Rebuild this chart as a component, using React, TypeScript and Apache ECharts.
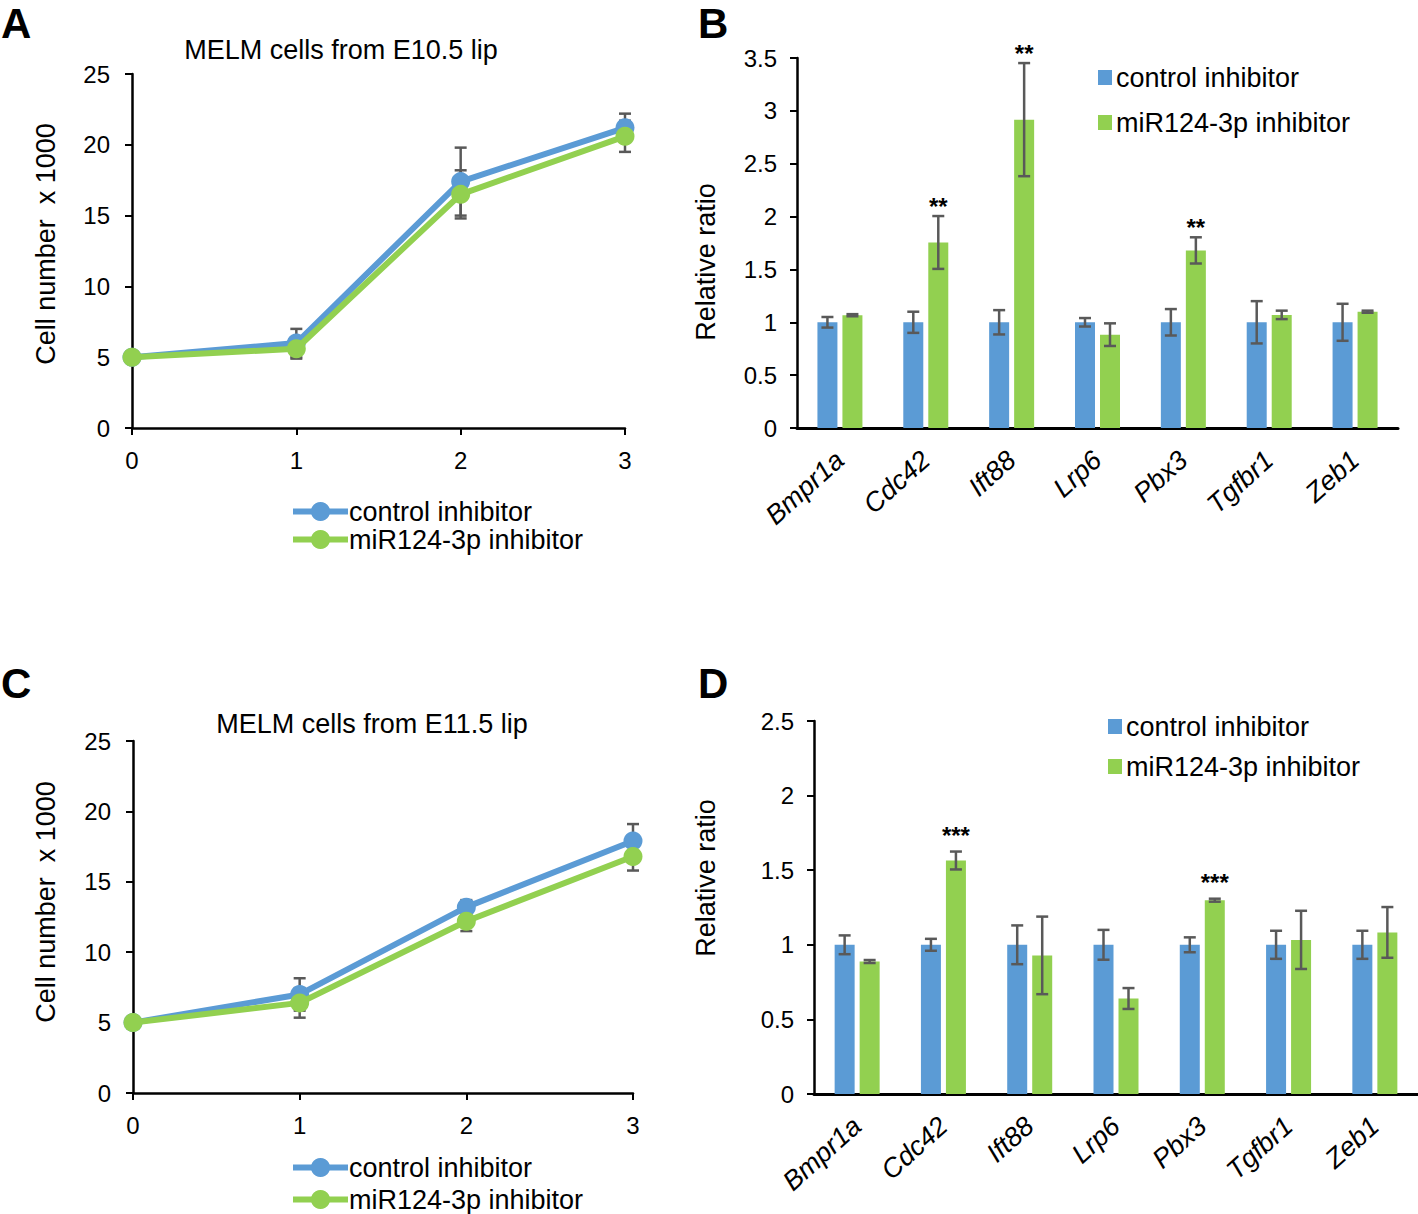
import React, { useEffect, useRef } from "react";
import * as echarts from "echarts";

const FONT = "'Liberation Sans', Arial, sans-serif";
const BLUE = "#5B9BD5";
const GREEN = "#92D050";
const ERR = "#595959";

const seriesNames = ["control inhibitor", "miR124-3p inhibitor"];

// Panel A — MELM cells from E10.5 lip
const days = [0, 1, 2, 3];
const e105Control = [5, 6.0, 17.4, 21.2];
const e105ControlErr = [0, 1.0, 2.4, 1.0];
const e105Mir = [5, 5.6, 16.5, 20.6];
const e105MirErr = [0, 0.7, 1.7, 1.1];

// Panel C — MELM cells from E11.5 lip
const e115Control = [5, 7.0, 13.2, 17.9];
const e115ControlErr = [0, 1.15, 0.5, 1.2];
const e115Mir = [5, 6.4, 12.2, 16.8];
const e115MirErr = [0, 1.05, 0.7, 1.0];

// Panel B
const genes = ["Bmpr1a", "Cdc42", "Ift88", "Lrp6", "Pbx3", "Tgfbr1", "Zeb1"];
const bControl = [1, 1, 1, 1, 1, 1, 1];
const bControlErr = [0.05, 0.1, 0.115, 0.04, 0.125, 0.2, 0.175];
const bMir = [1.067, 1.755, 2.917, 0.883, 1.68, 1.07, 1.1];
const bMirErr = [0.01, 0.25, 0.535, 0.107, 0.124, 0.04, 0.01];
const bSig = ["", "**", "**", "", "**", "", ""];

// Panel D
const dControl = [1, 1, 1, 1, 1, 1, 1];
const dControlErr = [0.063, 0.04, 0.13, 0.1, 0.05, 0.094, 0.094];
const dMir = [0.888, 1.565, 0.929, 0.64, 1.299, 1.033, 1.083];
const dMirErr = [0.01, 0.06, 0.26, 0.07, 0.01, 0.195, 0.17];
const dSig = ["", "***", "", "", "***", "", ""];

const BAR_W = 20;
const BAR_GAP_PX = 5;
const BIG = 27;
const TICK = 24;

function errBarItem(cx: number, hi: number[], lo: number[], cap = 6) {
  const style = { stroke: ERR, lineWidth: 2.5 };
  return [
    { type: "line", shape: { x1: cx, y1: hi[1], x2: cx, y2: lo[1] }, style },
    { type: "line", shape: { x1: cx - cap, y1: hi[1], x2: cx + cap, y2: hi[1] }, style },
    { type: "line", shape: { x1: cx - cap, y1: lo[1], x2: cx + cap, y2: lo[1] }, style },
  ];
}

function lineErrSeries(vals: number[], errs: number[]) {
  return {
    type: "custom",
    name: "err",
    z: 1,
    silent: true,
    data: days.map((d, i) => [d, vals[i], errs[i]]),
    encode: { x: 0, y: 1 },
    renderItem: (params: any, api: any) => {
      const x = api.value(0);
      const y = api.value(1);
      const e = api.value(2);
      if (!e) return { type: "group", children: [] };
      const hi = api.coord([x, y + e]);
      const lo = api.coord([x, y - e]);
      return { type: "group", children: errBarItem(hi[0], hi, lo) };
    },
  };
}

function barErrSeries(vals: number[], errs: number[], offset: number, sig?: string[], starLift = 0) {
  return {
    type: "custom",
    name: "err",
    z: 5,
    silent: true,
    data: genes.map((g, i) => [i, vals[i], errs[i]]),
    encode: { x: 0, y: 1 },
    renderItem: (params: any, api: any) => {
      const i = api.value(0);
      const y = api.value(1);
      const e = api.value(2);
      const hi = api.coord([i, y + e]);
      const lo = api.coord([i, y - e]);
      const cx = hi[0] + offset;
      const children: any[] = errBarItem(cx, hi, lo);
      const s = sig ? sig[params.dataIndex] : "";
      if (s) {
        children.push({
          type: "text",
          x: cx,
          y: hi[1] + 2 - starLift,
          style: {
            text: s,
            fontSize: 24,
            fontWeight: "bold",
            fontFamily: FONT,
            fill: "#000",
            align: "center",
            verticalAlign: "bottom",
          },
        });
      }
      return { type: "group", children };
    },
  };
}

function letter(text: string, x: number, y: number) {
  return {
    type: "text",
    x,
    y,
    style: { text, fontSize: 42, fontWeight: "bold", fontFamily: FONT, fill: "#000" },
  };
}

function vName(text: string, x: number, y: number) {
  return {
    type: "text",
    x,
    y,
    rotation: Math.PI / 2,
    style: {
      text,
      fontSize: BIG,
      fontFamily: FONT,
      fill: "#000",
      align: "center",
      verticalAlign: "middle",
    },
  };
}

function lineOption(
  title: string,
  titleX: number,
  titleY: number,
  letterText: string,
  letterY: number,
  nameY: number,
  grid: any,
  ctrl: number[],
  ctrlErr: number[],
  mir: number[],
  mirErr: number[],
  legendTop: number,
  legendGap: number
) {
  return {
    animation: false,
    textStyle: { fontFamily: FONT },
    graphic: [
      letter(letterText, 1, letterY),
      vName("Cell number  x 1000", 46, nameY),
      {
        type: "text",
        x: titleX,
        y: titleY,
        style: {
          text: title,
          fontSize: BIG,
          fontFamily: FONT,
          fill: "#000",
          align: "center",
          verticalAlign: "middle",
        },
      },
    ],
    grid,
    legend: {
      data: seriesNames,
      orient: "vertical",
      left: 290,
      top: legendTop,
      padding: 0,
      itemWidth: 55,
      itemHeight: 24,
      itemGap: legendGap,
      lineStyle: { width: 6 },
      textStyle: { fontSize: BIG, color: "#000", fontFamily: FONT, padding: [0, 0, 0, -4] },
    },
    xAxis: {
      type: "value",
      min: 0,
      max: 3,
      interval: 1,
      splitLine: { show: false },
      axisLine: { lineStyle: { color: "#000", width: 2.5 } },
      axisTick: { show: true, length: 7, lineStyle: { color: "#000", width: 2 } },
      axisLabel: { fontSize: TICK, color: "#000", margin: 20, fontFamily: FONT },
    },
    yAxis: {
      type: "value",
      min: 0,
      max: 25,
      interval: 5,
      splitLine: { show: false },
      axisLine: { show: true, lineStyle: { color: "#000", width: 2.5 } },
      axisTick: { show: true, length: 7, lineStyle: { color: "#000", width: 2 } },
      axisLabel: { fontSize: TICK, color: "#000", margin: 22, fontFamily: FONT },
    },
    series: [
      lineErrSeries(ctrl, ctrlErr),
      lineErrSeries(mir, mirErr),
      {
        type: "line",
        name: seriesNames[0],
        data: days.map((d, i) => [d, ctrl[i]]),
        symbol: "circle",
        symbolSize: 19,
        color: BLUE,
        lineStyle: { width: 6, color: BLUE },
        itemStyle: { color: BLUE },
        z: 2,
      },
      {
        type: "line",
        name: seriesNames[1],
        data: days.map((d, i) => [d, mir[i]]),
        symbol: "circle",
        symbolSize: 19,
        color: GREEN,
        lineStyle: { width: 6, color: GREEN },
        itemStyle: { color: GREEN },
        z: 3,
      },
    ],
  };
}

function barOption(
  letterText: string,
  letterY: number,
  nameY: number,
  grid: any,
  yMax: number,
  ctrl: number[],
  ctrlErr: number[],
  mir: number[],
  mirErr: number[],
  sig: string[],
  starLift: number,
  legendLeft: number,
  legendTop: number,
  legendGap: number
) {
  const off = (BAR_W + BAR_GAP_PX) / 2;
  return {
    animation: false,
    textStyle: { fontFamily: FONT },
    graphic: [letter(letterText, 18, letterY), vName("Relative ratio", 26, nameY)],
    grid,
    legend: {
      data: seriesNames,
      orient: "vertical",
      left: legendLeft,
      top: legendTop,
      padding: 0,
      icon: "rect",
      itemWidth: 14,
      itemHeight: 15,
      itemGap: legendGap,
      textStyle: { fontSize: BIG, color: "#000", fontFamily: FONT, padding: [0, 0, 0, -1] },
    },
    xAxis: {
      type: "category",
      data: genes,
      axisLine: { lineStyle: { color: "#000", width: 3 } },
      axisTick: { show: false },
      axisLabel: {
        rotate: 42,
        fontSize: BIG,
        fontStyle: "italic",
        color: "#000",
        margin: 28,
        interval: 0,
        fontFamily: FONT,
      },
    },
    yAxis: {
      type: "value",
      min: 0,
      max: yMax,
      interval: 0.5,
      splitLine: { show: false },
      axisLine: { show: true, lineStyle: { color: "#000", width: 2.5 } },
      axisTick: { show: true, length: 7, lineStyle: { color: "#000", width: 2 } },
      axisLabel: { fontSize: TICK, color: "#000", margin: 20, fontFamily: FONT },
    },
    series: [
      {
        type: "bar",
        name: seriesNames[0],
        data: ctrl,
        barWidth: BAR_W,
        barGap: (BAR_GAP_PX / BAR_W) * 100 + "%",
        itemStyle: { color: BLUE },
        color: BLUE,
      },
      {
        type: "bar",
        name: seriesNames[1],
        data: mir,
        barWidth: BAR_W,
        barGap: (BAR_GAP_PX / BAR_W) * 100 + "%",
        itemStyle: { color: GREEN },
        color: GREEN,
      },
      barErrSeries(ctrl, ctrlErr, -off),
      barErrSeries(mir, mirErr, off, sig, starLift),
    ],
  };
}

function Panel({ option, style }: { option: any; style: React.CSSProperties }) {
  const ref = useRef<HTMLDivElement>(null);
  useEffect(() => {
    if (!ref.current) return;
    const chart = echarts.init(ref.current, undefined, { renderer: "svg" });
    chart.setOption(option);
    return () => chart.dispose();
  }, [option]);
  return <div ref={ref} style={{ position: "absolute", ...style }} />;
}

const optA = lineOption(
  "MELM cells from E10.5 lip",
  341,
  50,
  "A",
  2,
  244,
  { left: 132, top: 74, width: 493, height: 354 },
  e105Control,
  e105ControlErr,
  e105Mir,
  e105MirErr,
  498,
  1
);

const optC = lineOption(
  "MELM cells from E11.5 lip",
  372,
  124,
  "C",
  62,
  302,
  { left: 133, top: 141, width: 500, height: 352 },
  e115Control,
  e115ControlErr,
  e115Mir,
  e115MirErr,
  554,
  5
);

const optB = barOption(
  "B",
  2,
  262,
  { left: 117, top: 58, width: 601, height: 370 },
  3.5,
  bControl,
  bControlErr,
  bMir,
  bMirErr,
  bSig,
  0,
  418,
  64,
  18
);

const optD = barOption(
  "D",
  62,
  278,
  { left: 134, top: 121, width: 604, height: 373 },
  2.5,
  dControl,
  dControlErr,
  dMir,
  dMirErr,
  dSig,
  6,
  428,
  113,
  13
);

export default function App() {
  return (
    <div
      style={{
        position: "absolute",
        left: 0,
        top: 0,
        width: 1418,
        height: 1214,
        background: "#fff",
        overflow: "hidden",
      }}
    >
      <Panel option={optA} style={{ left: 0, top: 0, width: 680, height: 600 }} />
      <Panel option={optB} style={{ left: 680, top: 0, width: 738, height: 600 }} />
      <Panel option={optC} style={{ left: 0, top: 600, width: 680, height: 640 }} />
      <Panel option={optD} style={{ left: 680, top: 600, width: 738, height: 640 }} />
    </div>
  );
}
